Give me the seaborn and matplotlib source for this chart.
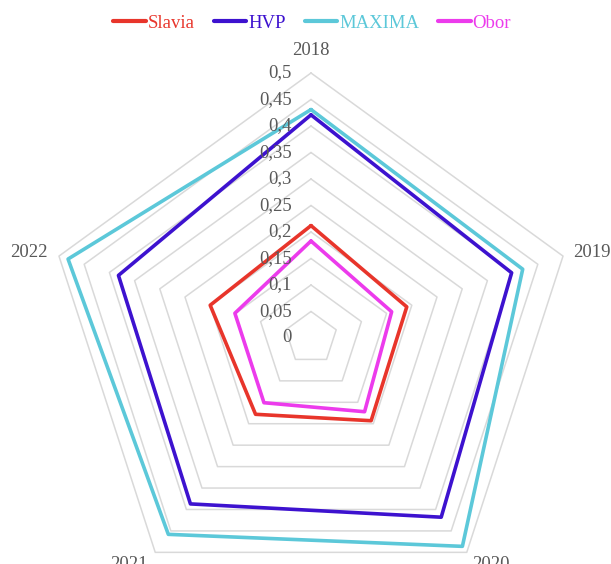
import numpy as np
import pandas as pd
import matplotlib
matplotlib.use("Agg")
import matplotlib.pyplot as plt
from matplotlib.lines import Line2D
import seaborn as sns

sns.set_style("white")
plt.rcParams["font.family"] = ["Liberation Serif", "DejaVu Serif"]

# values
years = ["2018", "2019", "2020", "2021", "2022"]
slavia = [0.212, 0.190, 0.193, 0.178, 0.200]
hvp = [0.421, 0.398, 0.418, 0.387, 0.382]
maxima = [0.431, 0.420, 0.486, 0.458, 0.482]
obor = [0.183, 0.160, 0.172, 0.151, 0.151]
companies = ["Slavia", "HVP", "MAXIMA", "Obor"]
colors = {"Slavia": "#E8352B", "HVP": "#3D12CF", "MAXIMA": "#5CC8D9", "Obor": "#EC3BEC"}
levels = [0, 0.05, 0.1, 0.15, 0.2, 0.25, 0.3, 0.35, 0.4, 0.45, 0.5]

angles = np.linspace(0, 2 * np.pi, len(years), endpoint=False)
closed = np.append(angles, 2 * np.pi)

rows = []
for name, vals in zip(companies, [slavia, hvp, maxima, obor]):
    for th, v in zip(closed, vals + vals[:1]):
        rows.append({"company": name, "theta": th, "value": v})
df = pd.DataFrame(rows)

fig = plt.figure(figsize=(6.11, 5.64), dpi=100)
ax = fig.add_axes([0.0753, -0.0691, 0.8674, 0.9397], projection="polar")
ax.set_theta_zero_location("N")
ax.set_theta_direction(-1)
ax.set_ylim(0, 0.5)
ax.grid(False)
ax.spines["polar"].set_visible(False)
ax.set_xticks([])
ax.set_yticks([])

# pentagon grid
for lv in levels[1:]:
    ax.plot(closed, [lv] * len(closed), color="#D9D9D9", lw=1.1, zorder=1, clip_on=False)

sns.lineplot(data=df, x="theta", y="value", hue="company", hue_order=companies,
             palette=colors, sort=False, estimator=None, linewidth=2.6,
             legend=False, ax=ax, zorder=3)
for ln in ax.lines:
    ln.set_clip_on(False)
ax.set_xlabel("")
ax.set_ylabel("")

# ring value labels along the 2018 axis
for lv in levels:
    ax.annotate(f"{lv:g}".replace(".", ","), xy=(0, lv), xytext=(-19, 0),
                textcoords="offset pixels", ha="right", va="center",
                fontsize=13.5, color="#595959", zorder=4, annotation_clip=False)

# category labels
offsets = [(0, 22, "center", "center"), (10, 4, "left", "center"),
           (5, -4, "left", "top"), (-8, -4, "right", "top"),
           (-11, 4, "right", "center")]
for th, yr, (dx, dy, ha, va) in zip(angles, years, offsets):
    ax.annotate(yr, xy=(th, 0.5), xytext=(dx, dy), textcoords="offset pixels",
                ha=ha, va=va, fontsize=13.5, color="#595959", annotation_clip=False)

handles = [Line2D([], [], color=colors[c], lw=3) for c in companies]
fig.legend(handles, companies, loc="center", bbox_to_anchor=(0.511, 0.959), ncol=4,
           frameon=False, fontsize=13.5, handlelength=1.75, handletextpad=0.1,
           columnspacing=1.0, labelcolor="linecolor")

plt.savefig("out.png", dpi=100)
